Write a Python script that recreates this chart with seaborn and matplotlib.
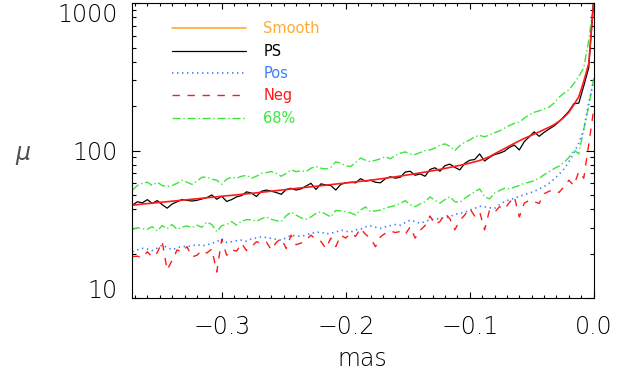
import numpy as np
import pandas as pd
import matplotlib
matplotlib.use("Agg")
import matplotlib.pyplot as plt
from matplotlib.lines import Line2D
from matplotlib.ticker import FixedLocator, MultipleLocator, FuncFormatter, LogLocator, NullFormatter
import seaborn as sns

# offset in mas, sampled every 0.004 mas up to zero
mas = np.round(np.arange(-0.372, 0.0001, 0.004), 3)

smooth = [42.7, 43.0, 43.4, 43.7, 44.0, 44.4, 44.7, 45.0, 45.4, 45.7,
          46.1, 46.4, 46.8, 47.1, 47.5, 47.9, 48.2, 48.6, 49.0, 49.4,
          49.7, 50.1, 50.5, 50.9, 51.3, 51.7, 52.2, 52.6, 53.1, 53.5,
          54.0, 54.4, 54.9, 55.4, 55.9, 56.3, 56.8, 57.3, 57.8, 58.3,
          58.8, 59.3, 59.8, 60.3, 60.8, 61.4, 61.9, 62.4, 63.0, 63.6,
          64.3, 65.0, 65.7, 66.4, 67.2, 68.0, 68.8, 69.7, 70.6, 71.5,
          72.5, 73.5, 74.6, 75.7, 76.9, 78.1, 79.4, 80.8, 82.3, 83.9,
          85.6, 88.2, 91.0, 95.0, 99.0, 103, 107.5, 112, 116.5, 121,
          125, 129.5, 134, 139, 144, 150, 158, 168, 182, 205,
          232, 295, 390, 1020]

ps = [42.7, 45.0, 44.2, 46.5, 43.8, 45.8, 43.0, 40.7, 43.4, 45.0,
      46.6, 46.0, 45.5, 46.0, 47.0, 48.0, 50.0, 46.8, 49.0, 45.2,
      46.5, 48.6, 49.5, 52.5, 51.5, 48.8, 53.0, 54.0, 53.0, 52.0,
      50.5, 54.5, 55.5, 54.0, 55.0, 57.5, 60.0, 54.5, 59.5, 58.5,
      58.0, 54.0, 59.0, 60.5, 61.0, 60.5, 64.5, 62.0, 63.0, 61.0,
      60.5, 64.5, 66.5, 65.0, 66.0, 71.5, 72.5, 68.0, 69.5, 67.0,
      74.5, 76.5, 72.5, 79.0, 81.0, 77.0, 74.0, 82.0, 86.0, 87.0,
      95.0, 85.0, 90.0, 94.0, 96.0, 99.0, 105, 109, 101, 115,
      124, 134, 125, 133, 140, 147, 157, 170, 185, 208,
      210, 275, 365, 1080]

pos = [20.6, 21.2, 21.7, 21.5, 21.0, 21.8, 22.9, 22.0, 21.3, 21.9,
       22.4, 22.3, 22.6, 23.0, 22.6, 22.9, 23.5, 24.1, 25.2, 23.8,
       24.1, 24.5, 24.7, 24.3, 25.2, 25.6, 26.0, 25.7, 25.4, 25.0,
       24.7, 25.6, 26.7, 26.4, 26.2, 26.8, 27.5, 27.8, 28.1, 27.2,
       27.5, 28.0, 28.9, 28.4, 28.0, 29.0, 29.3, 30.4, 30.8, 30.2,
       29.7, 30.4, 31.0, 31.5, 31.2, 32.5, 33.8, 33.0, 32.1, 33.0,
       34.0, 34.3, 34.6, 35.0, 35.5, 37.0, 37.5, 38.2, 39.5, 40.5,
       42.0, 41.5, 41.0, 40.5, 43.0, 45.0, 46.5, 47.5, 49.0, 50.2,
       51.5, 52.8, 55.0, 57.0, 60.0, 64.0, 69.0, 75.0, 84.0, 97.0,
       112, 140, 210, 300]

neg = [19.1, 19.2, 18.8, 20.6, 19.0, 20.3, 24.1, 15.5, 18.0, 21.2,
       20.5, 22.3, 19.0, 19.5, 21.0, 20.2, 21.5, 15.0, 25.0, 19.5,
       21.2, 20.8, 23.5, 21.0, 22.3, 24.1, 23.5, 24.0, 21.2, 23.8,
       25.4, 21.7, 26.7, 23.0, 23.6, 24.8, 26.7, 25.0, 24.2, 21.7,
       25.5, 22.3, 26.7, 25.5, 27.5, 26.2, 29.7, 27.0, 25.4, 22.3,
       26.0, 27.5, 28.5, 27.8, 28.3, 27.0, 30.4, 25.5, 28.8, 31.0,
       36.0, 31.5, 33.0, 37.5, 34.5, 29.0, 33.5, 36.6, 40.5, 36.0,
       38.5, 29.0, 39.5, 38.0, 41.6, 40.0, 44.5, 48.7, 35.5, 44.0,
       46.0, 45.0, 43.8, 51.0, 53.0, 54.0, 52.0, 56.8, 63.0, 58.0,
       72.0, 65.0, 110, 190]

upper68 = [54, 58, 60, 61, 58, 61, 58, 57, 58, 60,
           63, 61, 59, 62, 66, 66, 64, 63, 59, 64,
           66, 65, 67, 68, 65, 67, 70, 71, 72, 70,
           67, 70, 74, 72, 73, 72, 76, 78, 76, 75,
           77, 84, 82, 79, 78, 83, 89, 86, 84, 86,
           88, 91, 88, 93, 96, 98, 95, 94, 97, 100,
           101, 104, 109, 111, 107, 100, 108, 114, 118, 124,
           127, 124, 128, 132, 136, 142, 148, 153, 156, 166,
           175, 182, 186, 192, 197, 210, 230, 245, 258, 285,
           318, 365, 560, 1000]

lower68 = [29.2, 30.0, 29.6, 29.3, 30.5, 28.5, 31.0, 29.5, 31.5, 29.2,
           30.3, 30.8, 30.0, 31.2, 30.2, 32.8, 31.5, 28.2, 31.0, 31.5,
           33.0, 31.2, 33.2, 34.0, 34.0, 33.0, 34.5, 35.5, 34.2, 33.5,
           33.0, 36.2, 38.3, 36.5, 35.0, 34.2, 35.5, 37.5, 38.5, 37.0,
           35.5, 39.3, 39.0, 38.6, 37.8, 36.6, 39.5, 41.5, 38.5, 39.0,
           39.5, 40.8, 41.6, 42.5, 43.8, 45.8, 43.0, 41.6, 43.5, 45.0,
           48.5, 46.0, 44.0, 46.5, 48.7, 45.0, 44.5, 47.5, 50.0, 52.5,
           55.0, 48.7, 47.0, 51.5, 53.5, 55.6, 55.0, 56.5, 58.0, 60.0,
           61.0, 62.5, 65.0, 68.5, 72.0, 75.5, 78.5, 83.0, 90.0, 101,
           95, 140, 200, 310]

legend_labels = ["Smooth", "PS", "Pos", "Neg", "68%"]
x_ticks = [-0.3, -0.2, -0.1, 0.0]
y_ticks = [10, 100, 1000]

ORANGE = "#FFAA33"
BLACK = "#000000"
BLUE = "#3D7DFF"
RED = "#FF1A1A"
GREEN = "#3CE63C"
TEXT = "#000000"

plt.rcParams["lines.scale_dashes"] = False
sns.set_theme(style="ticks")
plt.rcParams["font.family"] = ["DejaVu Sans"]
plt.rcParams["font.weight"] = "light"
plt.rcParams["axes.labelweight"] = "light"
plt.rcParams["mathtext.fontset"] = "dejavusans"

df = pd.DataFrame({"mas": mas, "smooth": smooth, "ps": ps, "pos": pos,
                   "neg": neg, "upper68": upper68, "lower68": lower68})

fig, ax = plt.subplots(figsize=(6.39, 3.81), dpi=100)
fig.subplots_adjust(left=0.2061, right=0.9291, bottom=0.2178, top=0.9916)

dashdot = (0, (5.8, 2.0, 1.0, 2.0))
dotted = (0, (1.0, 2.6))
dashed = (0, (5.3, 5.5))

common = dict(ax=ax, estimator=None, errorbar=None, sort=False)
sns.lineplot(data=df, x="mas", y="upper68", color=GREEN, lw=1.0, linestyle=dashdot, **common)
sns.lineplot(data=df, x="mas", y="lower68", color=GREEN, lw=1.0, linestyle=dashdot, **common)
sns.lineplot(data=df, x="mas", y="pos", color=BLUE, lw=1.2, linestyle=dotted, **common)
sns.lineplot(data=df, x="mas", y="neg", color=RED, lw=1.0, linestyle=dashed, **common)
sns.lineplot(data=df, x="mas", y="ps", color=BLACK, lw=0.9, **common)
sns.lineplot(data=df, x="mas", y="smooth", color=RED, lw=1.2, **common)

ax.set_yscale("log")
ax.set_xlim(-0.3726, 0.0)
ax.set_ylim(10, 1000)

ax.xaxis.set_major_locator(FixedLocator(x_ticks))
ax.xaxis.set_minor_locator(MultipleLocator(0.01))
ax.xaxis.set_major_formatter(FuncFormatter(
    lambda v, p: f"{v:.1f}".replace("-", "\u2212") if abs(v) > 1e-9 else "0.0"))
ax.yaxis.set_major_locator(FixedLocator(y_ticks))
ax.yaxis.set_minor_locator(LogLocator(base=10, subs=np.arange(2, 10)))
ax.yaxis.set_minor_formatter(NullFormatter())
ax.yaxis.set_major_formatter(FuncFormatter(lambda v, p: f"{int(round(v))}"))

ax.tick_params(axis="both", which="both", direction="in", top=True, right=True,
               color="black", width=0.8, labelsize=17, labelcolor=TEXT)
ax.tick_params(axis="y", which="major", length=5.8, pad=10)
ax.tick_params(axis="y", which="minor", length=2.9)
ax.tick_params(axis="x", which="major", length=4.3, pad=12)
ax.tick_params(axis="x", which="minor", length=2.2)
for s in ax.spines.values():
    s.set_color("black")
    s.set_linewidth(0.8)

# keep the end labels of the log axis inside the frame
for tick, va in zip(ax.yaxis.get_major_ticks(), ["baseline", "center_baseline", "top"]):
    tick.label1.set_va(va)

ax.set_xlabel("mas", fontsize=17, color=TEXT, labelpad=6, fontweight="light")
ax.set_ylabel(r"$\mu$", fontsize=17, color="#505050", rotation=0, va="center", ha="center")
ax.yaxis.set_label_coords(-0.235, 0.485)

handles = [
    Line2D([], [], color=ORANGE, lw=1.2),
    Line2D([], [], color=BLACK, lw=0.9),
    Line2D([], [], color=BLUE, lw=1.2, linestyle=dotted),
    Line2D([], [], color=RED, lw=1.0, linestyle=dashed),
    Line2D([], [], color=GREEN, lw=1.0, linestyle=dashdot),
]
ax.legend(handles=handles, labels=legend_labels, loc="upper left",
          bbox_to_anchor=(0.0873, 0.938), frameon=False,
          prop={"family": "DejaVu Sans", "weight": "normal", "size": 10.5},
          handlelength=5.1, handletextpad=1.15, labelspacing=0.5,
          borderpad=0, borderaxespad=0,
          labelcolor=[ORANGE, BLACK, BLUE, RED, GREEN])

fig.savefig("out.png", dpi=100)
